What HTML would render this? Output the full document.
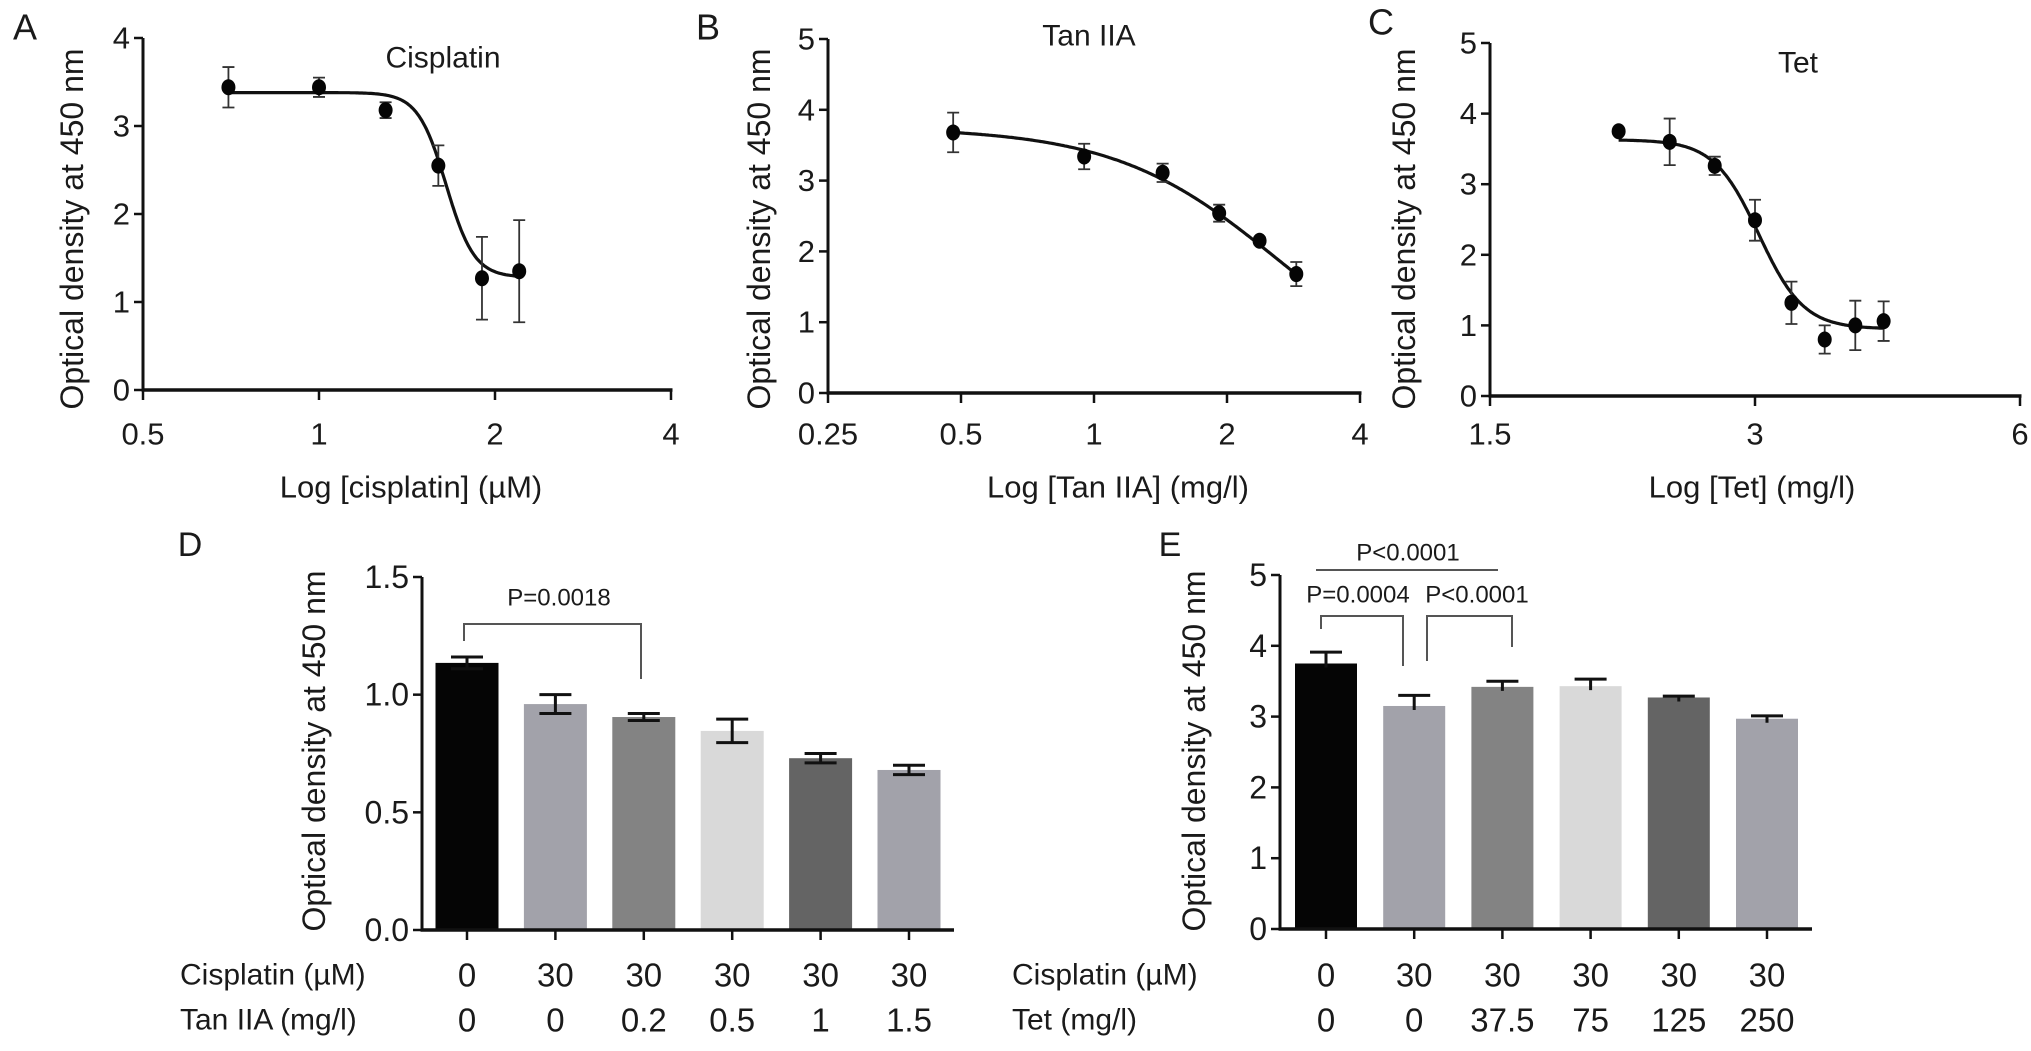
<!DOCTYPE html>
<html><head><meta charset="utf-8">
<style>
html,body{margin:0;padding:0;background:#fff;}
svg{display:block;font-family:"Liberation Sans",Arial,sans-serif;}
text{fill:#1a1a1a;}
</style></head>
<body>
<svg id="fig" width="2031" height="1051" viewBox="0 0 2031 1051" xmlns="http://www.w3.org/2000/svg"></svg>
<script>
// ---------- Data ----------
const A_x = [0.7, 1, 1.3, 1.6, 1.9, 2.2];
const A_y = [3.44, 3.44, 3.18, 2.55, 1.27, 1.35];
const A_err = [0.23, 0.11, 0.09, 0.23, 0.47, 0.58];
const A_fit = [3.38, 1.28, 1.65, 18]; // top, bottom, ec50, hill
const A_xticks = [0.5, 1, 2, 4];
const A_yticks = [0, 1, 2, 3, 4];

const B_x = [0.48, 0.95, 1.43, 1.92, 2.37, 2.87];
const B_y = [3.68, 3.34, 3.11, 2.54, 2.15, 1.68];
const B_err = [0.28, 0.18, 0.13, 0.12, 0.05, 0.17];
const B_fit = [3.75, 0, 2.62, 2.33];
const B_xticks = [0.25, 0.5, 1, 2, 4];
const B_yticks = [0, 1, 2, 3, 4, 5];

const C_x = [2.1, 2.4, 2.7, 3.0, 3.3, 3.6, 3.9, 4.2];
const C_y = [3.75, 3.60, 3.26, 2.49, 1.32, 0.80, 1.00, 1.06];
const C_err = [0.04, 0.33, 0.13, 0.29, 0.30, 0.20, 0.35, 0.28];
const C_fit = [3.63, 0.95, 3.03, 17];
const C_xticks = [1.5, 3, 6];
const C_yticks = [0, 1, 2, 3, 4, 5];

const D_cis = ["0", "30", "30", "30", "30", "30"];
const D_tan = ["0", "0", "0.2", "0.5", "1", "1.5"];
const D_vals = [1.135, 0.96, 0.905, 0.846, 0.73, 0.68];
const D_err = [0.025, 0.04, 0.015, 0.05, 0.02, 0.02];
const D_yticks = ["0.0", "0.5", "1.0", "1.5"];

const E_cis = ["0", "30", "30", "30", "30", "30"];
const E_tet = ["0", "0", "37.5", "75", "125", "250"];
const E_vals = [3.75, 3.15, 3.42, 3.43, 3.27, 2.97];
const E_err = [0.16, 0.15, 0.08, 0.10, 0.02, 0.04];
const E_yticks = ["0", "1", "2", "3", "4", "5"];

const BAR_COLORS = ["#050505", "#a2a2aa", "#838383", "#d9d9d9", "#646464", "#a2a2aa"];

// ---------- Helpers ----------
const NS = "http://www.w3.org/2000/svg";
const svg = document.getElementById("fig");
function el(tag, attrs, parent) {
  const e = document.createElementNS(NS, tag);
  for (const k in attrs) e.setAttribute(k, attrs[k]);
  (parent || svg).appendChild(e);
  return e;
}
function txt(str, x, y, size, anchor, parent) {
  const t = el("text", {x: x, y: y, "font-size": size, "text-anchor": anchor || "middle", "dominant-baseline": "central"}, parent);
  t.textContent = str;
  return t;
}
function log2(v) { return Math.log(v) / Math.LN2; }

// ---------- Line panels ----------
function linePanel(cfg) {
  const g = el("g", {});
  
  
  const X = v => cfg.x0 + (log2(v) - log2(cfg.xmin)) / (log2(cfg.xmax) - log2(cfg.xmin)) * (cfg.x1 - cfg.x0);
  const Y = v => cfg.y0 - (v / cfg.ymax) * (cfg.y0 - cfg.y1);
  const ya = el("line", {x1: cfg.x0, y1: cfg.y1, x2: cfg.x0, y2: cfg.y0 + 1.5, stroke: "#111", "stroke-width": 3}, g);
  
  
  const xa = el("line", {x1: cfg.x0 - 1.5, y1: cfg.y0, x2: cfg.x1 + 1.5, y2: cfg.y0, stroke: "#111", "stroke-width": 3.5}, g);
  
  
  cfg.yticks.forEach(v => {
    const tk = el("line", {x1: cfg.x0 - 9, y1: Y(v), x2: cfg.x0, y2: Y(v), stroke: "#111", "stroke-width": 2.5}, g);
    
    
    const tl = txt(String(v), cfg.x0 - 13, Y(v), 31, "end", g);
    
    
  });
  cfg.xticks.forEach(v => {
    const tk = el("line", {x1: X(v), y1: cfg.y0, x2: X(v), y2: cfg.y0 + 10, stroke: "#111", "stroke-width": 2.5}, g);
    
    
    const tl = txt(String(v), X(v), 434, 31, "middle", g);
    
    
  });
  let d = "";
  const [top, bot, ec, h] = cfg.fit;
  const lx0 = log2(cfg.xs[0]), lx1 = log2(cfg.xs[cfg.xs.length - 1]);
  for (let i = 0; i <= 200; i++) {
    const v = Math.pow(2, lx0 + (lx1 - lx0) * i / 200);
    const yv = bot + (top - bot) / (1 + Math.pow(v / ec, h));
    d += (i ? "L" : "M") + X(v).toFixed(1) + "," + Y(yv).toFixed(1);
  }
  const cv = el("path", {d: d, fill: "none", stroke: "#111", "stroke-width": 3.2}, g);
  
  
  cfg.xs.forEach((v, i) => {
    const px = X(v), yt = Y(cfg.ys[i] + cfg.err[i]), yb = Y(cfg.ys[i] - cfg.err[i]);
    const eb = el("path", {d: `M${px},${yt}V${yb}M${px - 6},${yt}H${px + 6}M${px - 6},${yb}H${px + 6}`, stroke: "#333", "stroke-width": 1.8, fill: "none"}, g);
    
    
    const pt = el("ellipse", {cx: px, cy: Y(cfg.ys[i]), rx: 7, ry: 8, fill: "#050505"}, g);
    
    
  });
  const yt = txt("Optical density at 450 nm", 0, 0, 32, "middle", g);
  yt.setAttribute("transform", `translate(${cfg.ytx},229) rotate(-90)`);
  
  
  const xt = txt(cfg.xtitle, cfg.xtx, 487, 31, "middle", g);
  
  
  const pt = txt(cfg.ptitle, cfg.ptx, cfg.pty, 30, "middle", g);
  
  
  const pl = txt(cfg.letter, cfg.lx, cfg.ly, 36, "middle", g);
  
  
}

linePanel({name: "panel-a-cisplatin", x0: 143, x1: 671, y0: 390, y1: 38, xmin: 0.5, xmax: 4, ymax: 4,
  xs: A_x, ys: A_y, err: A_err, fit: A_fit, xticks: A_xticks, yticks: A_yticks,
  ytx: 72, xtitle: "Log [cisplatin] (µM)", xtx: 411, ptitle: "Cisplatin", ptx: 443, pty: 58, letter: "A", lx: 25, ly: 27});
linePanel({name: "panel-b-tan-iia", x0: 828, x1: 1360, y0: 393, y1: 39, xmin: 0.25, xmax: 4, ymax: 5,
  xs: B_x, ys: B_y, err: B_err, fit: B_fit, xticks: B_xticks, yticks: B_yticks,
  ytx: 759, xtitle: "Log [Tan IIA] (mg/l)", xtx: 1118, ptitle: "Tan IIA", ptx: 1089, pty: 36, letter: "B", lx: 708, ly: 27});
linePanel({name: "panel-c-tet", x0: 1490, x1: 2020, y0: 396, y1: 43, xmin: 1.5, xmax: 6, ymax: 5,
  xs: C_x, ys: C_y, err: C_err, fit: C_fit, xticks: C_xticks, yticks: C_yticks,
  ytx: 1404, xtitle: "Log [Tet] (mg/l)", xtx: 1752, ptitle: "Tet", ptx: 1798, pty: 63, letter: "C", lx: 1381, ly: 22});

// ---------- Bar panels ----------
function barPanel(cfg) {
  const g = el("g", {});
  
  
  const Y = v => cfg.y0 - (v / cfg.ymax) * (cfg.y0 - cfg.y1);
  const X = i => cfg.bx0 + i * cfg.step;
  cfg.vals.forEach((v, i) => {
    const b = el("rect", {x: X(i) - cfg.bw / 2, y: Y(v), width: cfg.bw, height: cfg.y0 - Y(v), fill: BAR_COLORS[i]}, g);
    
    
    const e = cfg.err[i], yt = Y(v + e), yb = Y(v - e), cx = X(i);
    const dd = cfg.both ? `M${cx},${yt}V${yb}M${cx - 16},${yt}H${cx + 16}M${cx - 16},${yb}H${cx + 16}` : `M${cx},${yt}V${Y(v) + 4}M${cx - 16},${yt}H${cx + 16}`;
    const eb = el("path", {d: dd, stroke: "#111", "stroke-width": 3, fill: "none"}, g);
    
    
    const tk = el("line", {x1: cx, y1: cfg.y0, x2: cx, y2: cfg.y0 + 10, stroke: "#111", "stroke-width": 2.5}, g);
    
    
    const l1 = txt(cfg.row1[i], cx, 975, 33, "middle", g);
    
    
    const l2 = txt(cfg.row2[i], cx, 1020, 33, "middle", g);
    
    
  });
  const ya = el("line", {x1: cfg.x0, y1: cfg.y1, x2: cfg.x0, y2: cfg.y0 + 1.5, stroke: "#111", "stroke-width": 3}, g);
  
  
  const xa = el("line", {x1: cfg.x0 - 1.5, y1: cfg.y0, x2: cfg.x1, y2: cfg.y0, stroke: "#111", "stroke-width": 3.5}, g);
  
  
  cfg.yticks.forEach((s, k) => {
    const v = parseFloat(s);
    const tk = el("line", {x1: cfg.x0 - 9, y1: Y(v), x2: cfg.x0, y2: Y(v), stroke: "#111", "stroke-width": 2.5}, g);
    
    
    const tl = txt(s, cfg.x0 - 13, Y(v), 32, "end", g);
    
    
  });
  const yt = txt("Optical density at 450 nm", 0, 0, 32, "middle", g);
  yt.setAttribute("transform", `translate(${cfg.ytx},751) rotate(-90)`);
  
  
  const r1 = txt("Cisplatin (µM)", cfg.rlx, 975, 30, "start", g);
  
  
  const r2 = txt(cfg.row2title, cfg.rlx, 1020, 30, "start", g);
  
  
  const pl = txt(cfg.letter, cfg.lx, 545, 34, "middle", g);
  
  
  return {g: g, X: X};
}

const D = barPanel({name: "panel-d-tan-iia-bars", x0: 422, x1: 954, y0: 930, y1: 577, ymax: 1.5, bx0: 467, step: 88.4, bw: 63,
  vals: D_vals, err: D_err, both: true, yticks: D_yticks, row1: D_cis, row2: D_tan, row2title: "Tan IIA (mg/l)",
  ytx: 314, rlx: 180, letter: "D", lx: 190});
const E = barPanel({name: "panel-e-tet-bars", x0: 1280, x1: 1812, y0: 929, y1: 575, ymax: 5, bx0: 1326, step: 88.2, bw: 62,
  vals: E_vals, err: E_err, both: false, yticks: E_yticks, row1: E_cis, row2: E_tet, row2title: "Tet (mg/l)",
  ytx: 1194, rlx: 1012, letter: "E", lx: 1170});

function bracket(g, d, label, tx, ty) {
  const p = el("path", {d: d, stroke: "#555", "stroke-width": 2, fill: "none"}, g);
  
  
  const t = txt(label, tx, ty, 24, "middle", g);
  
  
}
bracket(D.g, "M464,641V624H641V679", "P=0.0018", 559, 598);
bracket(E.g, "M1316,570H1498", "P<0.0001", 1408, 553);
bracket(E.g, "M1321,629V616H1403V666", "P=0.0004", 1358, 595);
bracket(E.g, "M1427,661V616H1512V647", "P<0.0001", 1477, 595);
</script>
</body></html>
